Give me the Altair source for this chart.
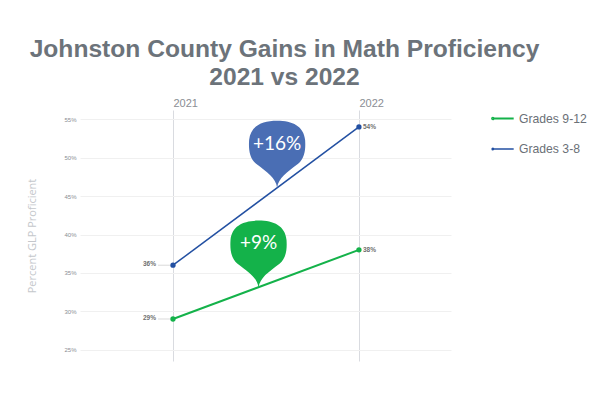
import altair as alt
import pandas as pd

# ---- data ----
years = [2021, 2022]
series_names = ["Grades 9-12", "Grades 3-8"]
grades_9_12 = [29, 38]
grades_3_8 = [36, 54]
label_9_12 = ["29%", "38%"]
label_3_8 = ["36%", "54%"]

y_ticks = [25, 30, 35, 40, 45, 50, 55]

gain_text = ["+16%", "+9%"]
gain_series = ["Grades 3-8", "Grades 9-12"]
gain_year_pos = [2021.56, 2021.46]   # where the balloon tip touches the line
gain_value_pos = [46.1, 33.1]

line_colors = ["#14b24a", "#2350a2"]
line_widths = [2.0, 1.5]
balloon_colors = ["#4a6eb4", "#14b24a"]

rows = []
for name, vals, labs in [("Grades 9-12", grades_9_12, label_9_12),
                         ("Grades 3-8", grades_3_8, label_3_8)]:
    for yr, v, lb in zip(years, vals, labs):
        rows.append({"year": yr, "value": v, "series": name, "label": lb})
df = pd.DataFrame(rows)

gains = pd.DataFrame({
    "year": gain_year_pos,
    "value": gain_value_pos,
    "text": gain_text,
    "series": gain_series,
    "bcolor": balloon_colors,
})

FONT = "Liberation Sans"

x_scale = alt.Scale(domain=[2020.5, 2022.495], nice=False, zero=False)
y_scale = alt.Scale(domain=[23.53, 56.21], nice=False, zero=False)

x_enc = alt.X("year:Q", scale=x_scale,
              axis=alt.Axis(orient="top", values=years, format="d", title=None,
                            grid=True, gridColor="#d9dbe0", gridWidth=1,
                            domain=False, ticks=False, labelAlign="left",
                            labelFontSize=11, labelColor="#8a8e94", labelFont=FONT,
                            labelPadding=2, labelFlush=False))
y_enc = alt.Y("value:Q", scale=y_scale,
              axis=alt.Axis(values=y_ticks, labelExpr="datum.value + '%'",
                            title="Percent GLP Proficient", titleFont="Open Sans",
                            titleFontWeight="normal", titleFontSize=11,
                            titleColor="#c4c7cb", titlePadding=26,
                            grid=True, gridColor="#f0f0f0", gridWidth=1,
                            domain=False, ticks=False, labelFontSize=6,
                            labelColor="#8a8e94", labelPadding=4, labelFont=FONT))

color_scale = alt.Scale(domain=series_names, range=line_colors)

legend_path = ("M-0.85,0 L1,0 M-0.79,0 A0.07,0.07 0 1 1 -0.93,0 "
               "A0.07,0.07 0 1 1 -0.79,0")

base = alt.Chart(df)

lines = base.mark_line().encode(
    x=x_enc, y=y_enc,
    color=alt.Color("series:N", scale=color_scale,
                    legend=alt.Legend(title=None, orient="none", legendX=410, legendY=-4,
                                      symbolType=legend_path, symbolSize=500,
                                      symbolStrokeWidth=2.2, labelFontSize=12.2,
                                      labelColor="#6b7077", labelFont=FONT,
                                      labelOffset=4, rowPadding=12, padding=0,
                                      labelLimit=200)),
    strokeWidth=alt.StrokeWidth("series:N",
                                scale=alt.Scale(domain=series_names, range=line_widths),
                                legend=None),
)

points = base.mark_point(filled=True, size=28, opacity=1).encode(
    x="year:Q", y="value:Q",
    fill=alt.Fill("series:N", scale=alt.Scale(domain=series_names, range=line_colors),
                  legend=None),
)

leaders = base.transform_filter("datum.year == 2021").mark_rule(
    color="#d0d0d0", strokeWidth=0.8, xOffset=-15, x2Offset=-3
).encode(x="year:Q", x2="year:Q", y="value:Q", y2="value:Q")

left_labels = base.transform_filter("datum.year == 2021").mark_text(
    align="right", dx=-17, dy=-1, fontSize=6.5, fontWeight="bold", color="#707070", font=FONT
).encode(x="year:Q", y="value:Q", text="label:N")

right_labels = base.transform_filter("datum.year == 2022").mark_text(
    align="left", dx=4, fontSize=6.5, fontWeight="bold", color="#707070", font=FONT
).encode(x="year:Q", y="value:Q", text="label:N")

balloon_path = ("M0,0 C0.05,-0.35 0.35,-0.55 0.75,-0.85 C1.0,-1.05 1.02,-1.4 1.0,-1.7 "
                "C0.95,-2.2 0.55,-2.39 0,-2.39 C-0.55,-2.39 -0.95,-2.2 -1.0,-1.7 "
                "C-1.02,-1.4 -1.0,-1.05 -0.75,-0.85 C-0.35,-0.55 -0.05,-0.35 0,0 Z")

gbase = alt.Chart(gains)
balloons = gbase.mark_point(shape=balloon_path, filled=True, size=3136, opacity=1,
                            strokeWidth=0).encode(
    x="year:Q", y="value:Q",
    fill=alt.Fill("bcolor:N", scale=None, legend=None),
)
balloon_text = gbase.mark_text(
    dy=-44, fontSize=19, fontWeight="normal", color="white", font="Lato",
    align="center", baseline="middle"
).encode(x="year:Q", y="value:Q", text="text:N")

chart = alt.layer(
    lines, leaders, points, left_labels, right_labels, balloons, balloon_text
).resolve_scale(fill="independent").properties(
    width=371, height=251,
    autosize=alt.AutoSizeParams(type="none"),
    padding={"left": 72, "top": 102, "right": 141, "bottom": 31},
    title=alt.TitleParams(
        ["Johnston County Gains in Math Proficiency", "2021 vs 2022"],
        anchor="middle", dx=19, offset=6, fontSize=24.6, font=FONT,
        fontWeight="bold", color="#6c737a", lineHeight=28,
    ),
).configure(background="white").configure_view(stroke=None)

chart.save("out.html", embed_options={"renderer": "svg", "actions": False})
